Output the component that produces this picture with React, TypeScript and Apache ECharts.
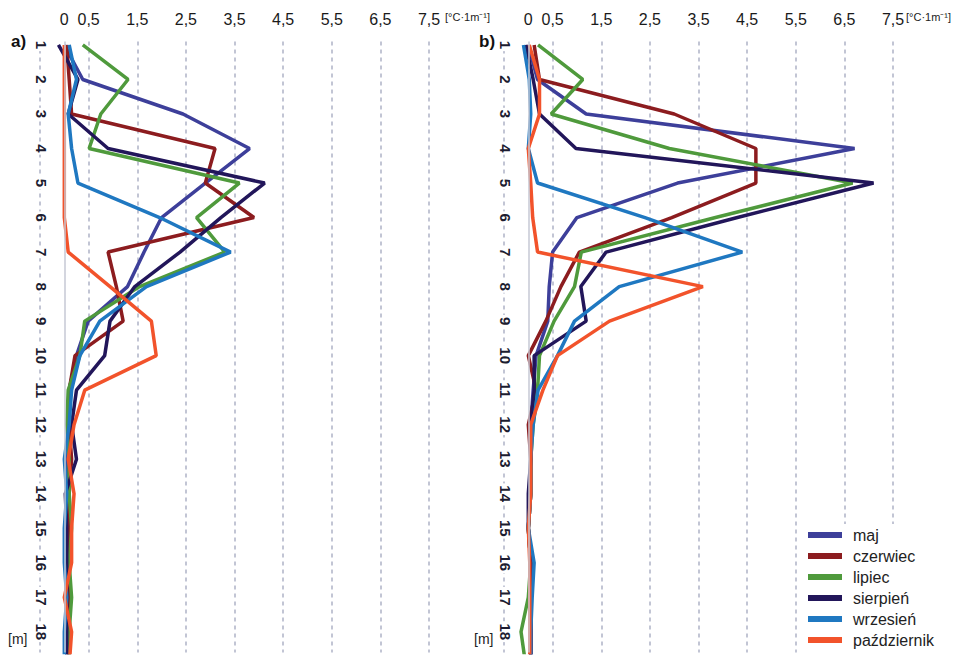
import React, { useEffect, useRef } from "react";
import * as echarts from "echarts";

// depth rows [m]; row 19 is the cut-off bottom edge of the plot
const depths = [1, 2, 3, 4, 5, 6, 7, 8, 9, 10, 11, 12, 13, 14, 15, 16, 17, 18, 19];
const depthLabels = [1, 2, 3, 4, 5, 6, 7, 8, 9, 10, 11, 12, 13, 14, 15, 16, 17, 18];
const xGridValues = [-0.5, 0.5, 1.5, 2.5, 3.5, 4.5, 5.5, 6.5, 7.5];
const xLabelValues = [0, 0.5, 1.5, 2.5, 3.5, 4.5, 5.5, 6.5, 7.5];

const seriesNames = ["maj", "czerwiec", "lipiec", "sierpień", "wrzesień", "październik"];
const seriesColors = ["#3d3f9a", "#8c1c1f", "#4f9a3c", "#22165a", "#1f78c1", "#f2532b"];

// panel a)
const majA = [0.0, 0.38, 2.44, 3.81, 2.9, 2.0, 1.64, 1.3, 0.49, 0.25, 0.1, 0.1, 0.05, 0.05, 0.1, 0.05, 0.05, 0.05, 0.05];
const czerwiecA = [0.05, 0.1, 0.15, 3.1, 2.9, 3.9, 0.9, 1.07, 1.21, 0.22, 0.1, 0.1, 0.15, 0.1, 0.1, 0.1, 0.1, 0.1, 0.1];
const lipiecA = [0.38, 1.31, 0.75, 0.51, 3.6, 2.72, 3.3, 1.55, 0.42, 0.32, 0.08, 0.05, 0.1, 0.1, 0.15, 0.1, 0.15, 0.1, 0.1];
const sierpienA = [-0.12, 0.28, 0.08, 0.9, 4.12, 3.22, 2.38, 1.45, 0.94, 0.83, 0.25, 0.15, 0.25, 0.02, 0.05, 0.05, 0.05, 0.05, 0.05];
const wrzesienA = [0.1, 0.25, 0.08, 0.15, 0.28, 1.96, 3.42, 1.69, 0.73, 0.32, 0.15, 0.1, 0.0, 0.05, 0.0, 0.0, 0.05, 0.0, 0.0];
const pazdziernikA = [0.0, 0.0, 0.0, 0.0, 0.0, 0.0, 0.08, 0.94, 1.79, 1.89, 0.42, 0.2, 0.08, 0.2, 0.15, 0.15, 0.0, 0.15, 0.1];

// panel b)
const majB = [0.0, 0.19, 1.19, 6.71, 3.07, 1.0, 0.5, 0.43, 0.4, 0.16, 0.1, 0.05, 0.05, 0.05, 0.0, 0.05, 0.05, 0.05, 0.05];
const czerwiecB = [0.12, 0.23, 3.0, 4.68, 4.68, 2.95, 1.05, 0.67, 0.36, 0.0, 0.16, 0.0, 0.05, 0.05, 0.0, 0.05, 0.05, 0.05, 0.05];
const lipiecB = [0.2, 1.12, 0.47, 2.9, 6.67, 3.85, 1.09, 0.95, 0.53, 0.23, 0.19, 0.1, 0.05, 0.05, 0.0, 0.05, 0.0, -0.15, -0.05];
const sierpienB = [-0.05, 0.1, 0.23, 0.98, 7.1, 4.3, 1.6, 1.08, 1.19, 0.12, 0.12, 0.05, 0.05, 0.0, 0.0, 0.05, 0.05, 0.05, 0.05];
const wrzesienB = [-0.1, 0.02, 0.05, 0.0, 0.19, 2.4, 4.4, 1.87, 0.95, 0.6, 0.2, 0.1, 0.05, 0.05, 0.0, 0.12, 0.08, 0.05, 0.05];
const pazdziernikB = [0.02, 0.23, 0.23, 0.0, 0.05, 0.09, 0.19, 3.59, 1.67, 0.6, 0.3, 0.05, 0.05, 0.05, 0.0, 0.03, 0.03, 0.03, 0.03];

const panelA = [majA, czerwiecA, lipiecA, sierpienA, wrzesienA, pazdziernikA];
const panelB = [majB, czerwiecB, lipiecB, sierpienB, wrzesienB, pazdziernikB];

const FONT = "'Liberation Sans', Arial, sans-serif";

function buildOption() {
  const grids = [
    { left: 40, top: 41.5, width: 389, height: 611 },
    { left: 504, top: 41.5, width: 389, height: 611 },
  ];
  const xAxes = [0, 1].map((i) => ({
    type: "value",
    gridIndex: i,
    position: "top",
    min: -0.5,
    max: 7.5,
    axisLine: { show: false },
    axisTick: { show: false, customValues: xGridValues },
    splitLine: {
      show: true,
      lineStyle: { color: "#aeb2c6", width: 1.5, type: [4, 4] },
    },
    axisLabel: {
      customValues: xLabelValues,
      fontSize: 16,
      color: "#1a1a1a",
      fontFamily: FONT,
      margin: 14,
      formatter: (v: number) => String(v).replace(".", ","),
    },
  }));
  const yAxes = [0, 1].map((i) => ({
    type: "value",
    gridIndex: i,
    inverse: true,
    min: 0.9,
    max: 18.6,
    axisLine: { show: false, onZero: false },
    axisTick: { show: false },
    splitLine: { show: false },
    axisLabel: {
      customValues: depthLabels,
      rotate: -90,
      fontSize: 15,
      fontWeight: "bold",
      color: "#1c1c30",
      fontFamily: FONT,
      margin: -9,
      backgroundColor: "#ffffff",
      padding: [0, 2],
    },
  }));

  const series: any[] = [];
  [panelA, panelB].forEach((panel, p) => {
    panel.forEach((vals, k) => {
      const s: any = {
        type: "line",
        name: seriesNames[k],
        xAxisIndex: p,
        yAxisIndex: p,
        data: depths.map((d, j) => [vals[j], d]),
        symbol: "none",
        color: seriesColors[k],
        lineStyle: { width: 3.5, color: seriesColors[k] },
        clip: true,
      };
      if (k === 0) {
        s.markLine = {
          silent: true,
          symbol: "none",
          label: { show: false },
          lineStyle: { color: "#c6c8d4", width: 1.5, type: "solid" },
          data: [{ xAxis: 0 }],
        };
      }
      series.push(s);
    });
  });

  return {
    animation: false,
    backgroundColor: "#ffffff",
    grid: grids,
    xAxis: xAxes,
    yAxis: yAxes,
    series,
    legend: {
      data: seriesNames,
      orient: "vertical",
      left: 800,
      top: 524,
      backgroundColor: "#ffffff",
      padding: [3, 12, 8, 8],
      icon: "rect",
      itemWidth: 34,
      itemHeight: 6,
      itemGap: 5,
      textStyle: {
        fontSize: 16,
        color: "#222222",
        fontFamily: FONT,
        lineHeight: 16,
        padding: [0, 0, 0, 6],
      },
    },
    graphic: [
      { type: "text", left: 11, top: 33, style: { text: "a)", fontSize: 17, fontWeight: "bold", fill: "#111", fontFamily: FONT } },
      { type: "text", left: 479, top: 33, style: { text: "b)", fontSize: 17, fontWeight: "bold", fill: "#111", fontFamily: FONT } },
      { type: "text", left: 8, top: 632, style: { text: "[m]", fontSize: 14, fill: "#222", fontFamily: FONT } },
      { type: "text", left: 474, top: 632, style: { text: "[m]", fontSize: 14, fill: "#222", fontFamily: FONT } },
      { type: "text", left: 445, top: 11, style: { text: "[°C·1m⁻¹]", fontSize: 11, fill: "#222", fontFamily: FONT } },
      { type: "text", left: 906, top: 11, style: { text: "[°C·1m⁻¹]", fontSize: 11, fill: "#222", fontFamily: FONT } },
    ],
  };
}

export default function App() {
  const ref = useRef<HTMLDivElement>(null);
  useEffect(() => {
    if (!ref.current) return;
    const chart = echarts.init(ref.current, undefined, { renderer: "svg" });
    chart.setOption(buildOption() as any);
    return () => chart.dispose();
  }, []);
  return (
    <div
      ref={ref}
      style={{ position: "absolute", left: 0, top: 0, width: 958, height: 660, background: "#fff" }}
    />
  );
}
